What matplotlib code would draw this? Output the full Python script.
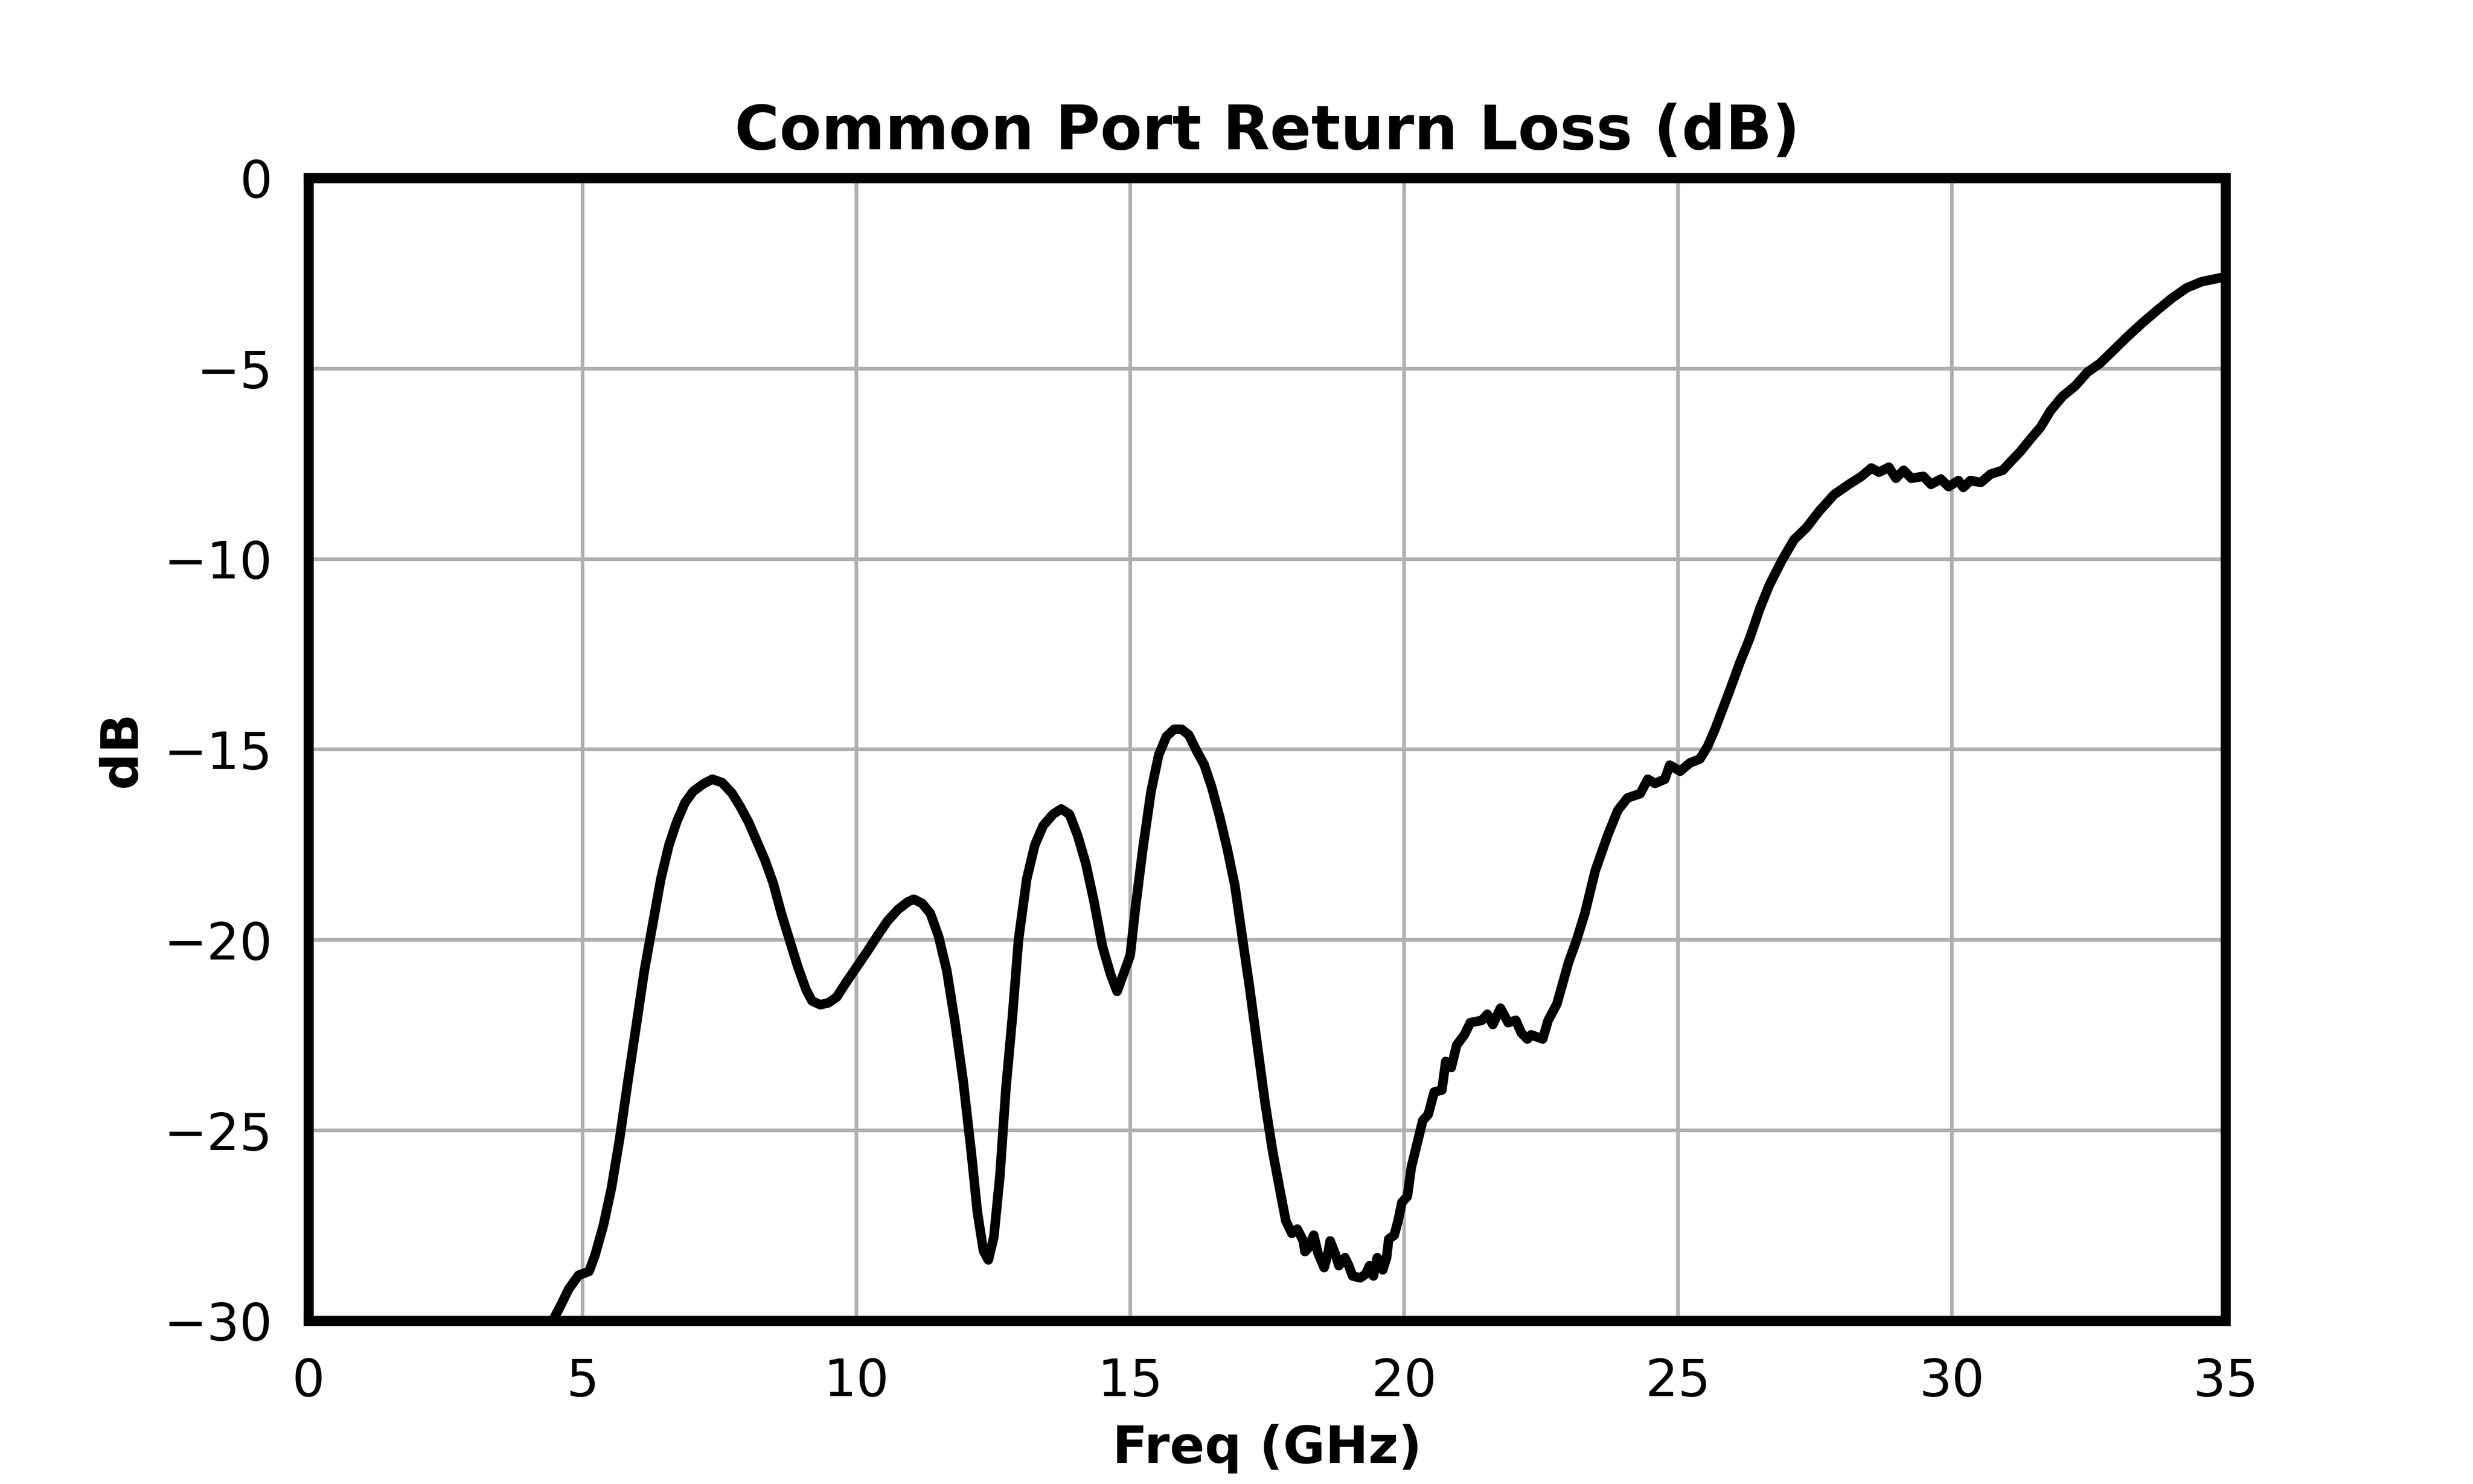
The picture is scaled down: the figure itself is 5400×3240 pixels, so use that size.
import matplotlib
matplotlib.use("Agg")
import matplotlib.pyplot as plt
import numpy as np

# Frequency (GHz) and return loss (dB)
freq_ghz = [
    0.0, 4.45, 4.49, 4.6, 4.75, 4.93, 5.12, 5.23, 5.38, 5.53, 5.68, 5.83, 5.98,
    6.13, 6.28, 6.43, 6.58, 6.72, 6.87, 7.02, 7.21, 7.37, 7.55, 7.73, 7.88,
    8.03, 8.18, 8.33, 8.48, 8.63, 8.78, 8.93, 9.08, 9.19, 9.34, 9.49, 9.64,
    9.82, 10.01, 10.2, 10.38, 10.57, 10.76, 10.94, 11.05, 11.2, 11.35, 11.5,
    11.65, 11.8, 11.95, 12.1, 12.21, 12.32, 12.41, 12.51, 12.62, 12.73, 12.85,
    12.96, 13.11, 13.26, 13.41, 13.59, 13.74, 13.89, 14.04, 14.19, 14.34,
    14.49, 14.64, 14.76, 14.9, 15.0, 15.1, 15.24, 15.38, 15.52, 15.66, 15.8,
    15.94, 16.07, 16.21, 16.35, 16.49, 16.63, 16.77, 16.91, 17.05, 17.18,
    17.32, 17.46, 17.6, 17.74, 17.84, 17.95, 18.05, 18.16, 18.19, 18.26,
    18.35, 18.43, 18.54, 18.61, 18.65, 18.74, 18.81, 18.92, 18.99, 19.06,
    19.2, 19.3, 19.37, 19.44, 19.51, 19.61, 19.68, 19.72, 19.82, 19.89,
    19.96, 20.06, 20.13, 20.24, 20.34, 20.44, 20.55, 20.69, 20.76, 20.86,
    20.96, 21.1, 21.21, 21.42, 21.52, 21.62, 21.76, 21.9, 22.04, 22.14,
    22.25, 22.32, 22.53, 22.63, 22.79, 23.0, 23.15, 23.3, 23.49, 23.72, 23.9,
    24.08, 24.31, 24.45, 24.58, 24.76, 24.85, 25.04, 25.22, 25.4, 25.54,
    25.67, 25.81, 25.94, 26.13, 26.31, 26.49, 26.67, 26.9, 27.12, 27.35,
    27.58, 27.85, 28.12, 28.35, 28.53, 28.67, 28.85, 28.98, 29.12, 29.26,
    29.48, 29.62, 29.8, 29.94, 30.12, 30.21, 30.34, 30.53, 30.71, 30.93,
    31.07, 31.25, 31.43, 31.62, 31.8, 32.02, 32.25, 32.48, 32.7, 32.93,
    33.2, 33.48, 33.75, 34.02, 34.29, 34.56, 34.93, 35.0,
]
return_loss_db = [
    -30.0, -30.0, -29.9, -29.6, -29.16, -28.8, -28.7, -28.27, -27.5, -26.5,
    -25.2, -23.7, -22.26, -20.8, -19.6, -18.4, -17.5, -16.9, -16.4, -16.1,
    -15.9, -15.78, -15.87, -16.15, -16.5, -16.9, -17.4, -17.9, -18.5, -19.3,
    -20.0, -20.7, -21.3, -21.6, -21.7, -21.65, -21.5, -21.1, -20.7, -20.3,
    -19.9, -19.5, -19.2, -19.0, -18.93, -19.04, -19.3, -19.9, -20.8, -22.15,
    -23.7, -25.6, -27.15, -28.16, -28.4, -27.8, -26.2, -23.9, -22.0, -20.0,
    -18.4, -17.5, -17.0, -16.7, -16.56, -16.7, -17.26, -18.0, -19.0, -20.15,
    -20.9, -21.35, -20.8, -20.4, -19.1, -17.5, -16.1, -15.14, -14.66, -14.47,
    -14.47, -14.62, -15.03, -15.4, -16.0, -16.75, -17.6, -18.57, -19.97,
    -21.26, -22.76, -24.26, -25.55, -26.62, -27.37, -27.7, -27.59, -27.9,
    -28.18, -28.07, -27.75, -28.23, -28.6, -28.23, -27.9, -28.23, -28.55,
    -28.34, -28.55, -28.82, -28.87, -28.77, -28.55, -28.82, -28.34, -28.66,
    -28.34, -27.85, -27.75, -27.37, -26.89, -26.73, -25.98, -25.33, -24.74,
    -24.58, -23.99, -23.94, -23.19, -23.35, -22.76, -22.49, -22.17, -22.11,
    -21.95, -22.22, -21.79, -22.17, -22.11, -22.44, -22.6, -22.49, -22.6,
    -22.11, -21.68, -20.6, -20.0, -19.3, -18.18, -17.24, -16.6, -16.27,
    -16.16, -15.78, -15.89, -15.78, -15.41, -15.57, -15.35, -15.25, -14.92,
    -14.49, -13.96, -13.47, -12.72, -12.08, -11.32, -10.68, -10.03, -9.49,
    -9.17, -8.74, -8.31, -8.04, -7.83, -7.61, -7.72, -7.59, -7.88, -7.67,
    -7.88, -7.83, -8.04, -7.9, -8.1, -7.94, -8.12, -7.94, -7.99, -7.77,
    -7.67, -7.45, -7.18, -6.86, -6.54, -6.11, -5.73, -5.46, -5.09, -4.87,
    -4.55, -4.17, -3.8, -3.47, -3.15, -2.88, -2.72, -2.61, -2.6,
]

x_ticks = [0, 5, 10, 15, 20, 25, 30, 35]
y_ticks = [0, -5, -10, -15, -20, -25, -30]

title_text = "Common Port Return Loss (dB)"
x_label = "Freq (GHz)"
y_label = "dB"

plt.rcParams["font.family"] = ["DejaVu Sans"]

fig = plt.figure(figsize=(18, 10.8), dpi=300)
ax = fig.add_axes([0.1248, 0.1099, 0.9 - 0.1248, 0.88 - 0.1099])

ax.plot(freq_ghz, return_loss_db, color="black", linewidth=5.0,
        solid_joinstyle="round", solid_capstyle="round", zorder=3)

ax.set_xlim(0, 35)
ax.set_ylim(-30, 0)
ax.set_xticks(x_ticks)
ax.set_yticks(y_ticks)
ax.grid(True, color="#b0b0b0", linewidth=1.9, zorder=0)
ax.set_axisbelow(True)

for s in ax.spines.values():
    s.set_linewidth(5.3)
    s.set_color("black")
    s.set_zorder(4)

ax.tick_params(axis="both", length=0, labelsize=27, pad=19)

ax.set_title(title_text, fontsize=32, fontweight="bold", pad=15)
ax.set_xlabel(x_label, fontsize=27, fontweight="bold", labelpad=9)
ax.set_ylabel(y_label, fontsize=27, fontweight="bold", labelpad=9)

fig.savefig("out.png", dpi=300, facecolor="white")
